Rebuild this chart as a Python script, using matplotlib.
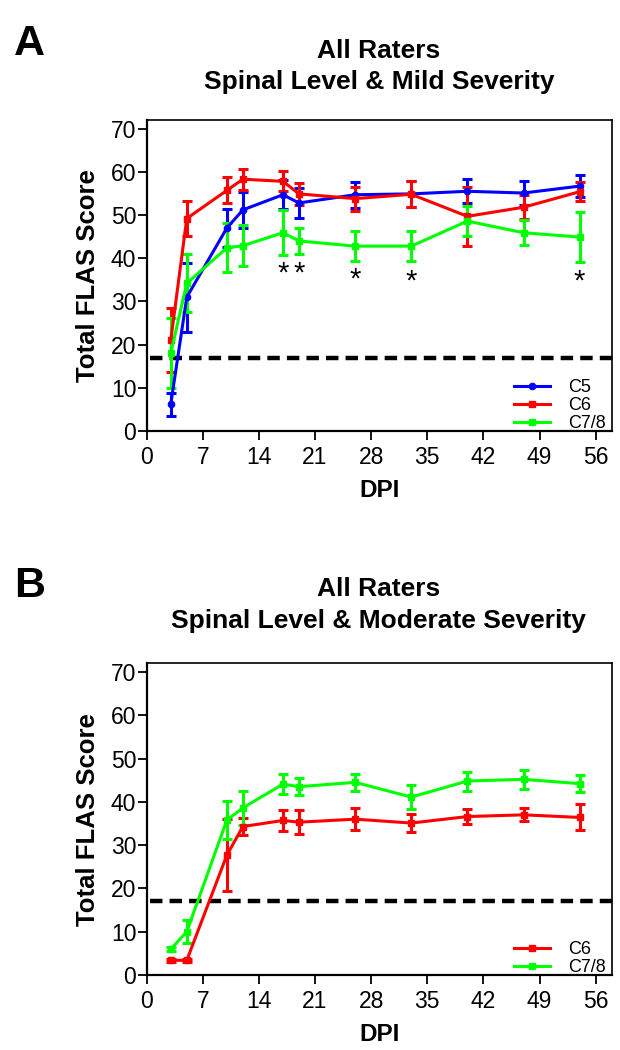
import matplotlib
matplotlib.use("Agg")
import matplotlib.pyplot as plt
from matplotlib.lines import Line2D

plt.rcParams["font.family"] = ["Liberation Sans", "DejaVu Sans"]

# days post injury
dpi_a = [3, 5, 10, 12, 17, 19, 26, 33, 40, 47, 54]
dpi_b = [3, 5, 10, 12, 17, 19, 26, 33, 40, 47, 54]

# Panel A: mild severity
a_c5 = [6.2, 31.0, 47.0, 51.2, 54.7, 52.8, 54.7, 54.9, 55.5, 55.1, 56.7]
a_c5_err = [2.7, 8.0, 4.5, 4.1, 3.3, 3.5, 3.0, 3.0, 2.8, 2.7, 2.5]
a_c6 = [21.0, 49.2, 55.7, 58.3, 57.8, 54.9, 53.8, 54.8, 49.7, 51.8, 55.4]
a_c6_err = [7.4, 4.0, 3.0, 2.4, 2.3, 2.6, 2.8, 3.0, 6.8, 2.8, 2.2]
a_c78 = [18.0, 34.2, 42.4, 42.9, 45.9, 44.0, 42.8, 42.8, 48.6, 45.9, 44.9]
a_c78_err = [8.1, 6.7, 5.7, 4.8, 5.2, 3.0, 3.5, 3.5, 3.5, 2.9, 5.8]
star_x = [17, 19, 26, 33, 54]
star_y = [39.6, 39.6, 38.2, 37.8, 37.8]

# Panel B: moderate severity
b_c6 = [3.4, 3.4, 27.7, 34.3, 35.7, 35.3, 36.0, 35.1, 36.6, 37.0, 36.4]
b_c6_err = [0.4, 0.4, 8.3, 2.0, 2.4, 2.7, 2.6, 2.0, 1.8, 1.5, 3.0]
b_c78 = [6.0, 10.0, 35.8, 38.6, 44.1, 43.5, 44.5, 41.1, 44.8, 45.2, 44.2]
b_c78_err = [0.5, 2.6, 4.3, 3.9, 2.3, 2.0, 2.0, 2.8, 2.2, 2.2, 2.0]

threshold = 17
xticks = [0, 7, 14, 21, 28, 35, 42, 49, 56]
yticks = [0, 10, 20, 30, 40, 50, 60, 70]

BLUE = "#0000ff"
RED = "#ff0000"
GREEN = "#00ff00"


def series(ax, x, y, err, color, marker):
    ax.errorbar(x, y, yerr=err, color=color, lw=2.2, marker=marker, ms=4.5,
                capsize=3.5, capthick=2.2, elinewidth=2.2)
    return Line2D([], [], color=color, lw=2.2, marker=marker, ms=4.5)


def style_axes(ax, handles, labels):
    ax.set_xlim(0, 58)
    ax.set_ylim(0, 72)
    ax.set_xticks(xticks)
    ax.set_yticks(yticks)
    ax.tick_params(direction="out", length=6.5, width=1.3, labelsize=16.5)
    ax.tick_params(axis="x", pad=4.5)
    ax.tick_params(axis="y", pad=1)
    for side in ["left", "bottom"]:
        ax.spines[side].set_linewidth(1.6)
    for side in ["top", "right"]:
        ax.spines[side].set_linewidth(1.2)
    ax.set_xlabel("DPI", fontsize=17.5, fontweight="bold", labelpad=7)
    ax.set_ylabel("Total FLAS Score", fontsize=18.5, fontweight="bold", labelpad=8)
    ax.plot([0.4, 58.6], [threshold, threshold], color="black", lw=3.2,
            ls=(0, (2.8, 1.6)), clip_on=False, zorder=1)
    ax.legend(handles, labels, loc="lower right", bbox_to_anchor=(1.0, -0.02),
              frameon=False, fontsize=13, handlelength=1.95, handletextpad=1.05,
              labelspacing=0.05, borderaxespad=0.0, borderpad=0.3)


fig = plt.figure(figsize=(6.2, 10.5), dpi=100)
ax1 = fig.add_axes([0.2366, 0.5895, 0.75, 0.2962])
ax2 = fig.add_axes([0.2366, 0.0714, 0.75, 0.2969])

h5 = series(ax1, dpi_a, a_c5, a_c5_err, BLUE, "o")
h6 = series(ax1, dpi_a, a_c6, a_c6_err, RED, "s")
h78 = series(ax1, dpi_a, a_c78, a_c78_err, GREEN, "s")
for sx, sy in zip(star_x, star_y):
    ax1.text(sx, sy, "*", ha="center", va="top", fontsize=21)
style_axes(ax1, [h5, h6, h78], ["C5", "C6", "C7/8"])

g6 = series(ax2, dpi_b, b_c6, b_c6_err, RED, "s")
g78 = series(ax2, dpi_b, b_c78, b_c78_err, GREEN, "s")
style_axes(ax2, [g6, g78], ["C6", "C7/8"])

fig.text(0.023, 0.948, "A", fontsize=31, fontweight="bold", va="baseline")
fig.text(0.611, 0.945, "All Raters", fontsize=19, fontweight="bold",
         ha="center", va="baseline")
fig.text(0.611, 0.915, "Spinal Level & Mild Severity", fontsize=19,
         fontweight="bold", ha="center", va="baseline")

fig.text(0.023, 0.431, "B", fontsize=31, fontweight="bold", va="baseline")
fig.text(0.611, 0.432, "All Raters", fontsize=19, fontweight="bold",
         ha="center", va="baseline")
fig.text(0.611, 0.402, "Spinal Level & Moderate Severity", fontsize=19,
         fontweight="bold", ha="center", va="baseline")

fig.savefig("out.png", dpi=100)
